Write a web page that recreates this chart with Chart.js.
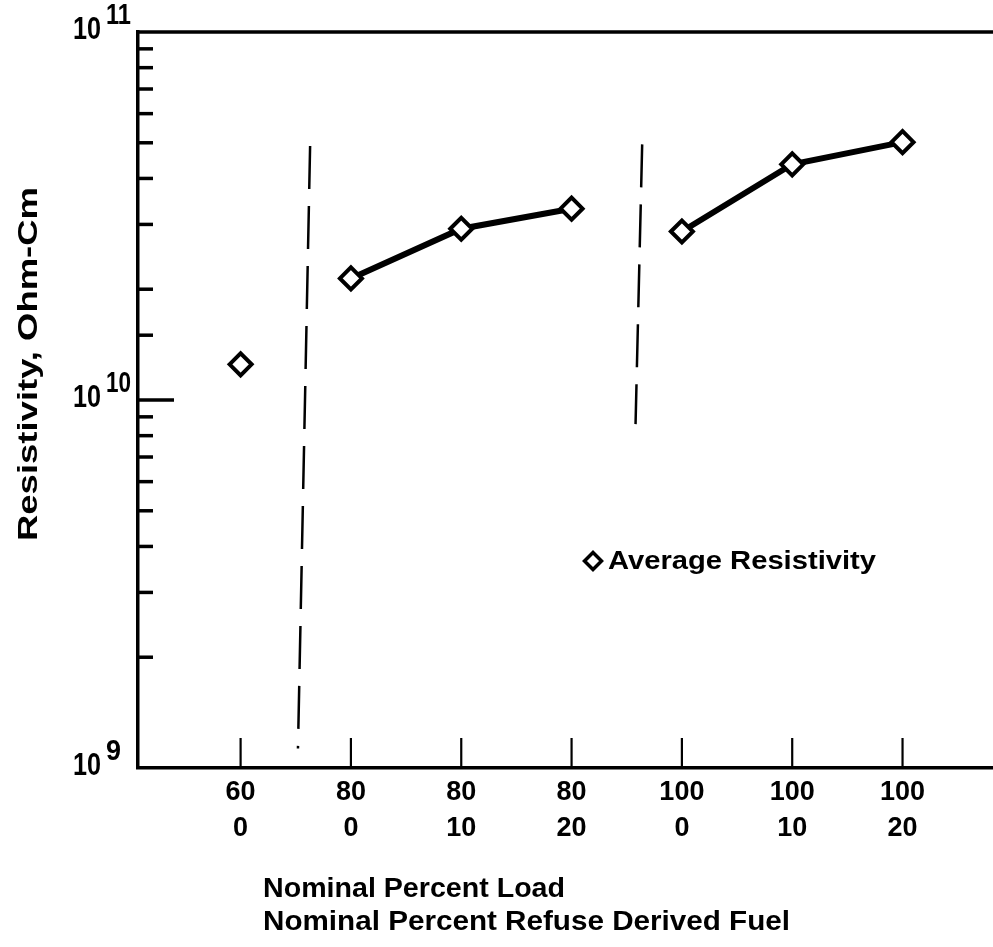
<!DOCTYPE html>
<html><head><meta charset="utf-8">
<script src="https://cdn.jsdelivr.net/npm/chart.js@4"></script>
<style>html,body{margin:0;padding:0;background:#fff}#wrap{width:993px;height:947px}</style>
</head><body><div id="wrap"><canvas id="c" width="993" height="947"></canvas></div>
<script>
// ---- data ----
const loadPct = ['60', '80', '80', '80', '100', '100', '100'];
const rdfPct = ['0', '0', '10', '20', '0', '10', '20'];
const resistivity = [1.25e10, 2.14e10, 2.92e10, 3.31e10, 2.87e10, 4.37e10, 5.02e10];
const groupEnds = [0, 3]; // no connecting line after these points
const sep1X = [0.63, 0.52];
const sep1Y = [4.9e10, 1.13e9];
const sep2X = [3.64, 3.58];
const sep2Y = [4.95e10, 8.6e9];
const yMajorTicks = [1e9, 1e10, 1e11];
const yTickBase = ['10', '10', '10'];
const yTickExp = ['9', '10', '11'];
const seriesLabel = 'Average Resistivity';
const xTitleLines = ['Nominal Percent Load', 'Nominal Percent Refuse Derived Fuel'];
const yTitle = 'Resistivity, Ohm-Cm';

const FONT = '"Liberation Sans", Arial, sans-serif';

function txt(ctx, text, x, y, size, targetW, opts) {
  opts = opts || {};
  ctx.save();
  ctx.font = 'bold ' + size + 'px ' + FONT;
  const w = ctx.measureText(text).width;
  const sx = targetW ? targetW / w : 1;
  ctx.translate(x, y);
  if (opts.rotate) ctx.rotate(opts.rotate);
  ctx.scale(sx, 1);
  ctx.textAlign = opts.align || 'left';
  ctx.textBaseline = opts.baseline || 'alphabetic';
  ctx.fillStyle = '#000';
  ctx.fillText(text, 0, 0);
  const out = w * sx;
  ctx.restore();
  return out;
}

const decorPlugin = {
  id: 'decor',
  afterDraw(chart) {
    const ctx = chart.ctx;
    const ca = chart.chartArea;
    const xs = chart.scales.x, ys = chart.scales.y;
    ctx.save();
    ctx.strokeStyle = '#000';
    ctx.lineCap = 'butt';
    // top frame line
    ctx.lineWidth = 3.5;
    ctx.beginPath();
    ctx.moveTo(ca.left - 1.5, ca.top);
    ctx.lineTo(chart.width, ca.top);
    ctx.stroke();
    // y tick marks (inside)
    ys.ticks.forEach(t => {
      const v = t.value;
      if (v <= 1e9 * 1.0001 || v >= 1e11 * 0.9999) return;
      const lg = Math.log10(v);
      const major = Math.abs(lg - Math.round(lg)) < 1e-6;
      const py = ys.getPixelForValue(v);
      ctx.lineWidth = 3.5;
      ctx.beginPath();
      ctx.moveTo(ca.left, py);
      ctx.lineTo(ca.left + (major ? 36 : 15), py);
      ctx.stroke();
    });
    // x tick marks (inside)
    ctx.lineWidth = 2.2;
    loadPct.forEach((_, i) => {
      const px = xs.getPixelForValue(i);
      ctx.beginPath();
      ctx.moveTo(px, ca.bottom);
      ctx.lineTo(px, ca.bottom - 30);
      ctx.stroke();
    });
    ctx.restore();
    // y tick labels with superscript
    yMajorTicks.forEach((v, i) => {
      const py = ys.getPixelForValue(v);
      const w = txt(ctx, yTickBase[i], 73, py + 7, 31, 28);
      txt(ctx, yTickExp[i], 73 + w + 5, py - 8, 29, yTickExp[i].length > 1 ? 25 : 15);
    });
    // y title
    txt(ctx, yTitle, 29, 364, 28, 354, {rotate: -Math.PI / 2, align: 'center', baseline: 'middle'});
    // x title lines
    txt(ctx, xTitleLines[0], 263, 897, 27, 302);
    txt(ctx, xTitleLines[1], 263, 930, 27, 527);
    // legend
    ctx.save();
    ctx.lineWidth = 3.5;
    ctx.strokeStyle = '#000';
    ctx.fillStyle = '#fff';
    const lx = 593, ly = 561, r = 8.5;
    ctx.beginPath();
    ctx.moveTo(lx, ly - r); ctx.lineTo(lx + r, ly); ctx.lineTo(lx, ly + r); ctx.lineTo(lx - r, ly); ctx.closePath();
    ctx.fill(); ctx.stroke();
    ctx.restore();
    txt(ctx, chart.data.datasets[0].label, 608, 569, 26, 268);
  }
};

new Chart(document.getElementById('c'), {
  type: 'line',
  data: {
    datasets: [
      {
        label: seriesLabel,
        data: resistivity.map((v, i) => ({x: i, y: v})),
        borderColor: '#000',
        borderWidth: 6,
        tension: 0,
        pointStyle: 'rectRot',
        pointRadius: 11,
        pointBorderWidth: 4,
        pointBorderColor: '#000',
        pointBackgroundColor: '#fff',
        segment: {
          borderColor: c => groupEnds.includes(c.p0DataIndex) ? 'rgba(0,0,0,0)' : '#000'
        }
      },
      {
        label: 'sep1',
        data: sep1X.map((x, i) => ({x: x, y: sep1Y[i]})),
        borderColor: '#000', borderWidth: 2.5, borderDash: [43, 17], pointRadius: 0
      },
      {
        label: 'sep2',
        data: sep2X.map((x, i) => ({x: x, y: sep2Y[i]})),
        borderColor: '#000', borderWidth: 2.5, borderDash: [43, 17], pointRadius: 0
      }
    ]
  },
  options: {
    responsive: false,
    animation: false,
    devicePixelRatio: 1,
    layout: {autoPadding: false, padding: {left: 0, top: 32, right: 0, bottom: 0}},
    plugins: {legend: {display: false}, tooltip: {enabled: false}},
    scales: {
      x: {
        type: 'linear',
        min: -0.93,
        max: 6.82,
        afterBuildTicks: s => { s.ticks = loadPct.map((_, i) => ({value: i})); },
        afterFit: s => { s.height = 179; s.paddingRight = 0; s.paddingLeft = 0; },
        grid: {display: false, drawTicks: false},
        border: {display: true, color: '#000', width: 3.5},
        ticks: {
          autoSkip: false, maxRotation: 0, padding: 6, color: '#000',
          font: {family: FONT, size: 27, weight: 'bold', lineHeight: 1.35},
          callback: v => [loadPct[v], rdfPct[v]]
        }
      },
      y: {
        type: 'logarithmic',
        min: 1e9,
        max: 1e11,
        afterFit: s => { s.width = 138; },
        grid: {display: false, drawTicks: false},
        border: {display: true, color: '#000', width: 3.5},
        ticks: {display: false}
      }
    }
  },
  plugins: [decorPlugin]
});
</script>
</body></html>
